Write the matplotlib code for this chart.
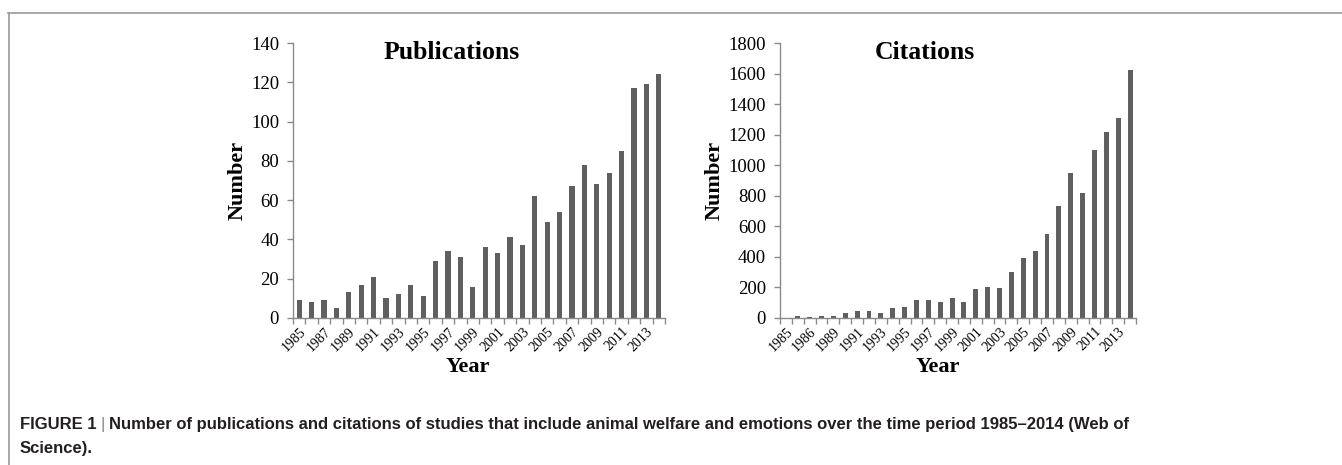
import matplotlib
matplotlib.use("Agg")
import matplotlib.pyplot as plt
from matplotlib.lines import Line2D
import numpy as np

# ---- data ----
pub_years = [str(y) for y in range(1985, 2015)]
pub_values = [9, 8, 9, 5, 13, 17, 21, 10, 12, 17, 11, 29, 34, 31, 16,
              36, 33, 41, 37, 62, 49, 54, 67, 78, 68, 74, 85, 117, 119, 124]

cit_labels = ["1985", "", "1986", "", "1989", "", "1991", "", "1993", "",
              "1995", "", "1997", "", "1999", "", "2001", "", "2003", "",
              "2005", "", "2007", "", "2009", "", "2011", "", "2013", ""]
cit_values = [0, 15, 8, 12, 15, 30, 45, 43, 35, 65, 72, 120, 120, 108, 130,
              105, 190, 200, 198, 300, 395, 440, 548, 730, 948, 820, 1100,
              1220, 1310, 1620]

pub_yticks = [0, 20, 40, 60, 80, 100, 120, 140]
cit_yticks = [0, 200, 400, 600, 800, 1000, 1200, 1400, 1600, 1800]

caption1 = ("Number of publications and citations of studies that include animal "
            "welfare and emotions over the time period 1985\u20132014 (Web of")
caption2 = "Science)."

W, H = 1342, 465
fig = plt.figure(figsize=(W / 100, H / 100), dpi=100)

serif = ["Liberation Serif", "DejaVu Serif"]
bar_color = "#5f5f5f"
axis_color = "#8a8a8a"


def fx(px):
    return px / W


def fy(py):
    return 1 - py / H


def make_panel(rect, labels, values, yticks, title, title_x, show_every):
    ax = fig.add_axes(rect)
    n = len(values)
    x = np.arange(n)
    ax.bar(x, values, width=0.42, color=bar_color, zorder=2)
    ax.set_xlim(-0.5, n - 0.5)
    ax.set_ylim(yticks[0], yticks[-1])
    ax.set_yticks(yticks)
    ax.set_yticklabels([str(t) for t in yticks], fontfamily=serif, fontsize=13.5)
    ax.set_xticks(np.arange(-0.5, n, 1.0), minor=True)
    ax.set_xticks(x[::show_every])
    ax.set_xticklabels([labels[i] for i in range(0, n, show_every)],
                       rotation=45, ha="right", va="top",
                       rotation_mode="anchor", fontfamily=serif, fontsize=10)
    ax.tick_params(axis="x", which="major", length=0, pad=5)
    ax.tick_params(axis="x", which="minor", length=4, color=axis_color, width=1)
    ax.tick_params(axis="y", length=4, color=axis_color, width=1, pad=6)
    for s in ["top", "right"]:
        ax.spines[s].set_visible(False)
    for s in ["left", "bottom"]:
        ax.spines[s].set_color(axis_color)
        ax.spines[s].set_linewidth(1)
    ax.set_facecolor("none")
    ax.text(title_x, 0.967, title, transform=ax.transAxes, ha="center",
            va="center", fontfamily=serif, fontweight="bold", fontsize=18.5)
    return ax


axL = make_panel([fx(293), fy(318), fx(665) - fx(293), fy(43) - fy(318)],
                 pub_years, pub_values, pub_yticks, "Publications", 0.427, 2)
axR = make_panel([fx(780), fy(318), fx(1136) - fx(780), fy(43) - fy(318)],
                 cit_labels, cit_values, cit_yticks, "Citations", 0.407, 2)

for xpix in (238, 715):
    fig.text(fx(xpix), fy(180), "Number", rotation=90, ha="center", va="center",
             fontfamily=serif, fontweight="bold", fontsize=16)
for xpix in (468, 938):
    fig.text(fx(xpix), fy(367), "Year", ha="center", va="center",
             fontfamily=serif, fontweight="bold", fontsize=16)

fig.add_artist(Line2D([fx(8), 1], [fy(13), fy(13)], color="#9a9a9a", lw=1.2,
                      transform=fig.transFigure))
fig.add_artist(Line2D([fx(9), fx(9)], [fy(13), 0], color="#9a9a9a", lw=1.2,
                      transform=fig.transFigure))

cap_font = ["Liberation Sans Narrow", "Liberation Sans", "DejaVu Sans"]
cap_size = 12
t1 = fig.text(fx(20), fy(424), "FIGURE 1", ha="left", va="center",
              fontfamily=cap_font, fontweight="bold", fontsize=cap_size,
              color="#231f20")
fig.canvas.draw()
bb = t1.get_window_extent()
t2 = fig.text(bb.x1 / W + fx(4), fy(424), "|", ha="left", va="center",
              fontfamily=cap_font, fontsize=cap_size + 0.5, color="#888888")
fig.canvas.draw()
bb2 = t2.get_window_extent()
fig.text(bb2.x1 / W + fx(4), fy(424), caption1, ha="left", va="center",
         fontfamily=cap_font, fontweight="bold", fontsize=cap_size, color="#231f20")
fig.text(fx(20), fy(448), caption2, ha="left", va="center",
         fontfamily=cap_font, fontweight="bold", fontsize=cap_size, color="#231f20")

fig.savefig("out.png", dpi=100)
